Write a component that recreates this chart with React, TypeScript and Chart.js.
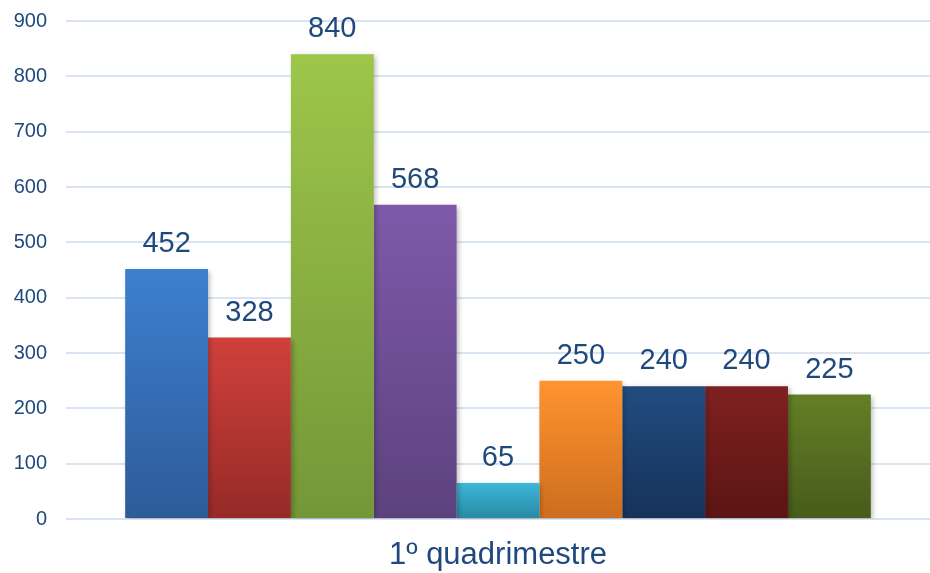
import React, { useEffect, useRef } from "react";
import { Chart, registerables } from "chart.js";

Chart.register(...registerables);

const categories = ["1º quadrimestre"];
const seriesNames = ["Série 1", "Série 2", "Série 3", "Série 4", "Série 5", "Série 6", "Série 7", "Série 8", "Série 9"];
const seriesValues = [452, 328, 840, 568, 65, 250, 240, 240, 225];
const topColors = ["#3D7FD0", "#D0403C", "#9DC64B", "#7E59AA", "#3BB7DA", "#FF9430", "#214C80", "#802020", "#637F26"];
const bottomColors = ["#2D5B98", "#962A27", "#739737", "#5C427D", "#2889A3", "#CD6D1E", "#16325A", "#5B1414", "#485B1B"];
const yTicks = [0, 100, 200, 300, 400, 500, 600, 700, 800, 900];

const FONT = "'Liberation Sans', Arial, sans-serif";
const TEXT = "#1F497D";

const shadowPlugin = {
  id: "barShadow",
  beforeDatasetsDraw(chart: any) {
    const ctx = chart.ctx;
    ctx.save();
    ctx.shadowColor = "rgba(0,0,0,0.28)";
    ctx.shadowBlur = 5;
    ctx.shadowOffsetX = 2;
    ctx.shadowOffsetY = 2;
  },
  afterDatasetsDraw(chart: any) {
    chart.ctx.restore();
  },
};

const labelPlugin = {
  id: "valueLabels",
  afterDraw(chart: any) {
    const ctx = chart.ctx;
    ctx.save();
    ctx.font = `29px ${FONT}`;
    ctx.fillStyle = TEXT;
    ctx.textAlign = "center";
    ctx.textBaseline = "alphabetic";
    chart.data.datasets.forEach((ds: any, i: number) => {
      const meta = chart.getDatasetMeta(i);
      meta.data.forEach((bar: any, j: number) => {
        ctx.fillText(String(ds.data[j]), bar.x, bar.y - 17);
      });
    });
    ctx.restore();
  },
};

export default function App() {
  const ref = useRef<HTMLCanvasElement | null>(null);

  useEffect(() => {
    document.body.style.margin = "0";
    const canvas = ref.current;
    if (!canvas) return;
    const chart = new Chart(canvas, {
      type: "bar",
      data: {
        labels: categories,
        datasets: seriesValues.map((v, i) => ({
          label: seriesNames[i],
          data: [v],
          backgroundColor: (c: any) => {
            const ch = c.chart;
            const ys = ch.scales && ch.scales.y;
            if (!ch.chartArea || !ys || c.raw == null) return topColors[i];
            const t = ys.getPixelForValue(c.raw);
            const b = ys.getPixelForValue(0);
            if (!isFinite(t) || !isFinite(b) || t === b) return topColors[i];
            const g = ch.ctx.createLinearGradient(0, t, 0, b);
            g.addColorStop(0, topColors[i]);
            g.addColorStop(1, bottomColors[i]);
            return g;
          },
          borderWidth: 0,
          barPercentage: 1,
          categoryPercentage: 0.863,
        })),
      },
      options: {
        responsive: false,
        animation: false,
        layout: { padding: { top: 21, right: 0, left: 2, bottom: 0 } },
        plugins: {
          legend: { display: false },
          tooltip: { enabled: false },
        },
        scales: {
          x: {
            grid: { display: false, drawTicks: false },
            border: { display: false },
            ticks: { color: TEXT, font: { family: FONT, size: 31 }, padding: 18 },
            afterFit: (s: any) => {
              s.height = 54;
              s.paddingLeft = 0;
              s.paddingRight = 0;
            },
          },
          y: {
            min: 0,
            max: 900,
            afterBuildTicks: (s: any) => {
              s.ticks = yTicks.map((v) => ({ value: v }));
            },
            grid: { color: "#D9E4F2", lineWidth: 2, drawTicks: false },
            border: { display: false },
            ticks: { color: TEXT, font: { family: FONT, size: 20 }, padding: 19 },
            afterFit: (s: any) => {
              s.width = 64;
              s.paddingTop = 0;
              s.paddingBottom = 0;
            },
          },
        },
      },
      plugins: [shadowPlugin, labelPlugin],
    });
    return () => chart.destroy();
  }, []);

  return (
    <div style={{ position: "absolute", left: 0, top: 0, width: 930, height: 573, background: "#fff" }}>
      <canvas ref={ref} width={930} height={573} style={{ display: "block", width: 930, height: 573 }} />
    </div>
  );
}
